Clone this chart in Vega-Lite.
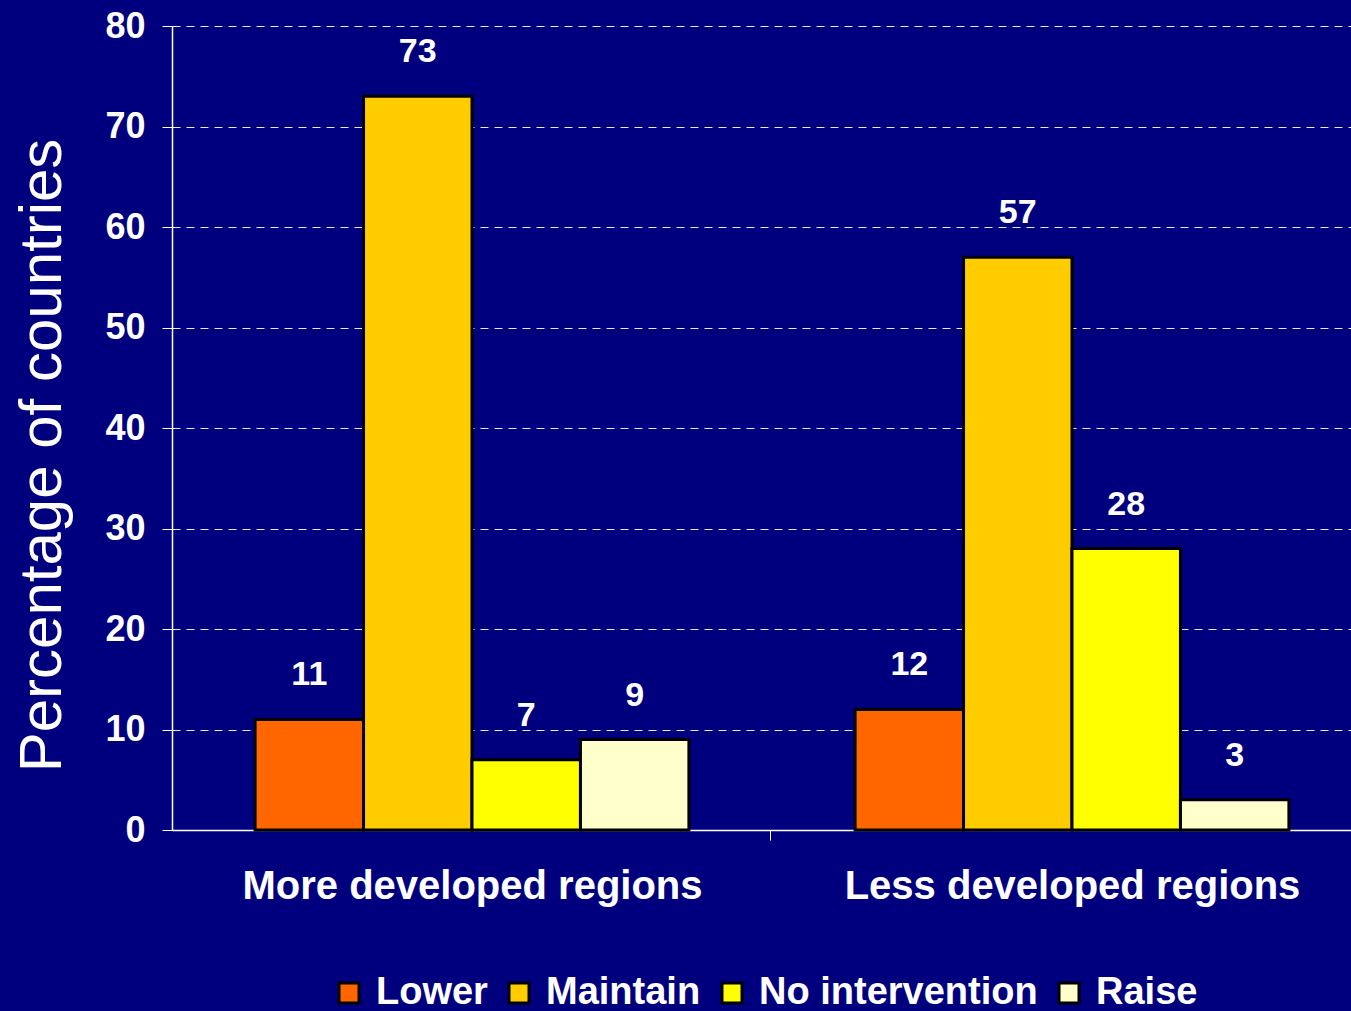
{
  "$schema": "https://vega.github.io/schema/vega-lite/v6.json",
  "width": 1200,
  "height": 804,
  "autosize": {"type": "none"},
  "padding": {"left": 172, "top": 26, "right": 0, "bottom": 181},
  "background": "#00007E",
  "config": {"view": {"stroke": null}, "font": "Liberation Sans"},
  "data": {
    "values": [
      {"region": "More developed regions", "policy": "Lower", "value": 11},
      {"region": "More developed regions", "policy": "Maintain", "value": 73},
      {"region": "More developed regions", "policy": "No intervention", "value": 7},
      {"region": "More developed regions", "policy": "Raise", "value": 9},
      {"region": "Less developed regions", "policy": "Lower", "value": 12},
      {"region": "Less developed regions", "policy": "Maintain", "value": 57},
      {"region": "Less developed regions", "policy": "No intervention", "value": 28},
      {"region": "Less developed regions", "policy": "Raise", "value": 3}
    ]
  },
  "encoding": {
    "x": {
      "field": "region",
      "type": "nominal",
      "sort": ["More developed regions", "Less developed regions"],
      "scale": {"paddingInner": 0.277, "paddingOuter": 0.1385},
      "axis": {
        "title": null,
        "labelAngle": 0,
        "labelFontSize": 40,
        "labelFontWeight": "bold",
        "labelColor": "white",
        "labelLimit": 700,
        "domainColor": "white",
        "domainWidth": 1.5,
        "tickColor": "white",
        "tickOffset": 298,
        "labelOffset": -298,
        "tickSize": 10,
        "labelPadding": 26
      }
    },
    "xOffset": {"field": "policy", "type": "nominal", "sort": ["Lower", "Maintain", "No intervention", "Raise"]},
    "y": {
      "field": "value",
      "type": "quantitative",
      "scale": {"domain": [0, 80]},
      "axis": {
        "values": [0, 10, 20, 30, 40, 50, 60, 70, 80],
        "title": "Percentage of countries",
        "titleFontSize": 60,
        "titleFontWeight": "normal",
        "titleColor": "white",
        "titleAngle": -90,
        "titleX": -130,
        "titleY": 429,
        "titleAlign": "center",
        "titleBaseline": "middle",
        "labelFontSize": 36,
        "labelFontWeight": "bold",
        "labelColor": "white",
        "labelPadding": 17,
        "tickSize": 10,
        "tickColor": "white",
        "domainColor": "white",
        "domainWidth": 1.5,
        "grid": true,
        "gridColor": "#dfefff",
        "gridDash": [8, 6],
        "gridWidth": 1.2
      }
    }
  },
  "layer": [
    {
      "mark": {"type": "bar", "stroke": "black", "strokeWidth": 3},
      "encoding": {
        "color": {
          "field": "policy",
          "type": "nominal",
          "sort": ["Lower", "Maintain", "No intervention", "Raise"],
          "scale": {
            "domain": ["Lower", "Maintain", "No intervention", "Raise"],
            "range": ["#FF6600", "#FFCC00", "#FFFF00", "#FFFFCC"]
          },
          "legend": {
            "title": null,
            "orient": "none",
            "legendX": 158,
            "legendY": 948,
            "direction": "horizontal",
            "symbolType": "square",
            "symbolSize": 400,
            "symbolStrokeColor": "black",
            "symbolStrokeWidth": 3,
            "symbolOpacity": 1,
            "labelFontSize": 38,
            "labelFontWeight": "bold",
            "labelColor": "white",
            "labelOffset": 8,
            "columnPadding": 12,
            "labelLimit": 400
          }
        }
      }
    },
    {
      "mark": {
        "type": "text",
        "color": "white",
        "fontSize": 34,
        "fontWeight": "bold",
        "baseline": "alphabetic",
        "dy": -34
      },
      "encoding": {
        "text": {"field": "value", "type": "quantitative"}
      }
    }
  ]
}
